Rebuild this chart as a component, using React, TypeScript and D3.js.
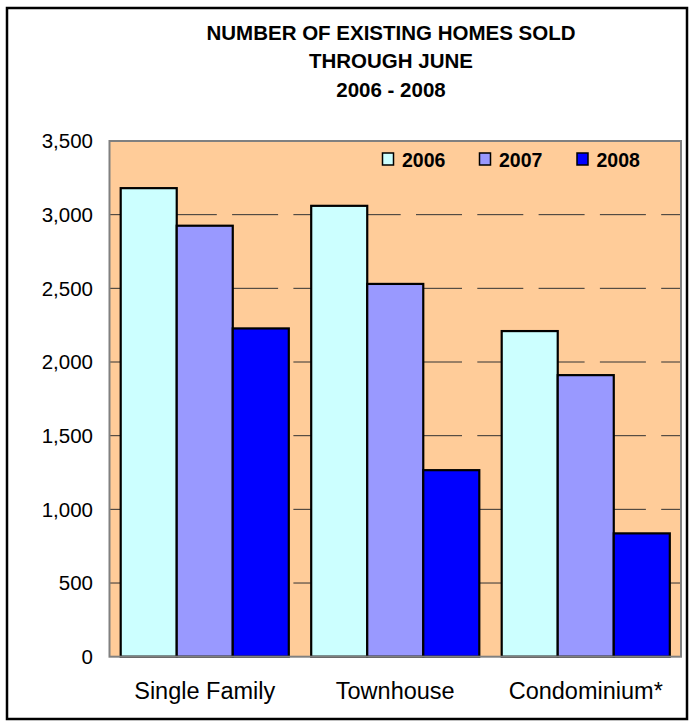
import React from "react";
import * as d3 from "d3";

const categories = ["Single Family", "Townhouse", "Condominium*"];
const seriesNames = ["2006", "2007", "2008"];
const values2006 = [3180, 3060, 2210];
const values2007 = [2925, 2530, 1911];
const values2008 = [2228, 1266, 837];
const yTicks = [0, 500, 1000, 1500, 2000, 2500, 3000, 3500];
const titleLines = ["NUMBER OF EXISTING HOMES SOLD", "THROUGH JUNE", "2006 - 2008"];
const colors = ["#CCFFFF", "#9999FF", "#0000FF"];

export default function App() {
  const W = 692, H = 724;
  const plot = { left: 109.5, right: 681, top: 141, bottom: 656.7 };
  const series = [values2006, values2007, values2008];
  const x0 = d3.scaleBand().domain(categories).range([plot.left, plot.right]).paddingInner(0).paddingOuter(0);
  const bw = x0.bandwidth();
  const pad = 11.2;
  const x1 = d3.scaleBand().domain(seriesNames).range([pad, bw - pad]).padding(0);
  const y = d3.scaleLinear().domain([0, 3500]).range([plot.bottom, plot.top]);
  const fmt = d3.format(",");
  const font = "Arial, 'Liberation Sans', sans-serif";

  return (
    <svg width={W} height={H} style={{ position: "absolute", left: 0, top: 0 }}>
      <rect x={0} y={0} width={W} height={H} fill="#fff" />
      <rect x={7} y={8} width={680} height={711} fill="none" stroke="#000" strokeWidth={2.5} />
      {titleLines.map((t, i) => (
        <text key={t} x={391} y={39.5 + i * 28.5} textAnchor="middle" fontFamily={font} fontWeight="bold" fontSize={20.5} fill="#000">{t}</text>
      ))}
      <rect x={plot.left} y={plot.top} width={plot.right - plot.left} height={plot.bottom - plot.top} fill="#FFCC99" />
      {yTicks.filter(v => v > 0 && v < 3500).map(v => (
        <line key={v} x1={plot.left} x2={plot.right} y1={y(v)} y2={y(v)} stroke="#333" strokeWidth={1} strokeDasharray="46,15.3" />
      ))}
      {categories.map((c, ci) => (
        <g key={c}>
          {seriesNames.map((s, si) => {
            const v = series[si][ci];
            const x = (x0(c) as number) + (x1(s) as number);
            return (
              <rect key={s} x={x} y={y(v)} width={x1.bandwidth()} height={plot.bottom - y(v)} fill={colors[si]} stroke="#000" strokeWidth={2.2} />
            );
          })}
        </g>
      ))}
      <rect x={plot.left} y={plot.top} width={plot.right - plot.left} height={plot.bottom - plot.top} fill="none" stroke="#808080" strokeWidth={2} />
      {yTicks.map(v => (
        <text key={v} x={93} y={y(v)} dy="0.36em" textAnchor="end" fontFamily={font} fontSize={20.5} fill="#000">{fmt(v)}</text>
      ))}
      {categories.map(c => (
        <text key={c} x={(x0(c) as number) + bw / 2} y={699} textAnchor="middle" fontFamily={font} fontSize={23.5} fill="#000">{c}</text>
      ))}
      {seriesNames.map((s, i) => {
        const lx = [382.5, 479.5, 577][i];
        return (
          <g key={s}>
            <rect x={lx} y={153} width={11} height={12} fill={colors[i]} stroke="#000" strokeWidth={1.5} />
            <text x={lx + 19.5} y={166.5} fontFamily={font} fontWeight="bold" fontSize={19.5} fill="#000">{s}</text>
          </g>
        );
      })}
    </svg>
  );
}
